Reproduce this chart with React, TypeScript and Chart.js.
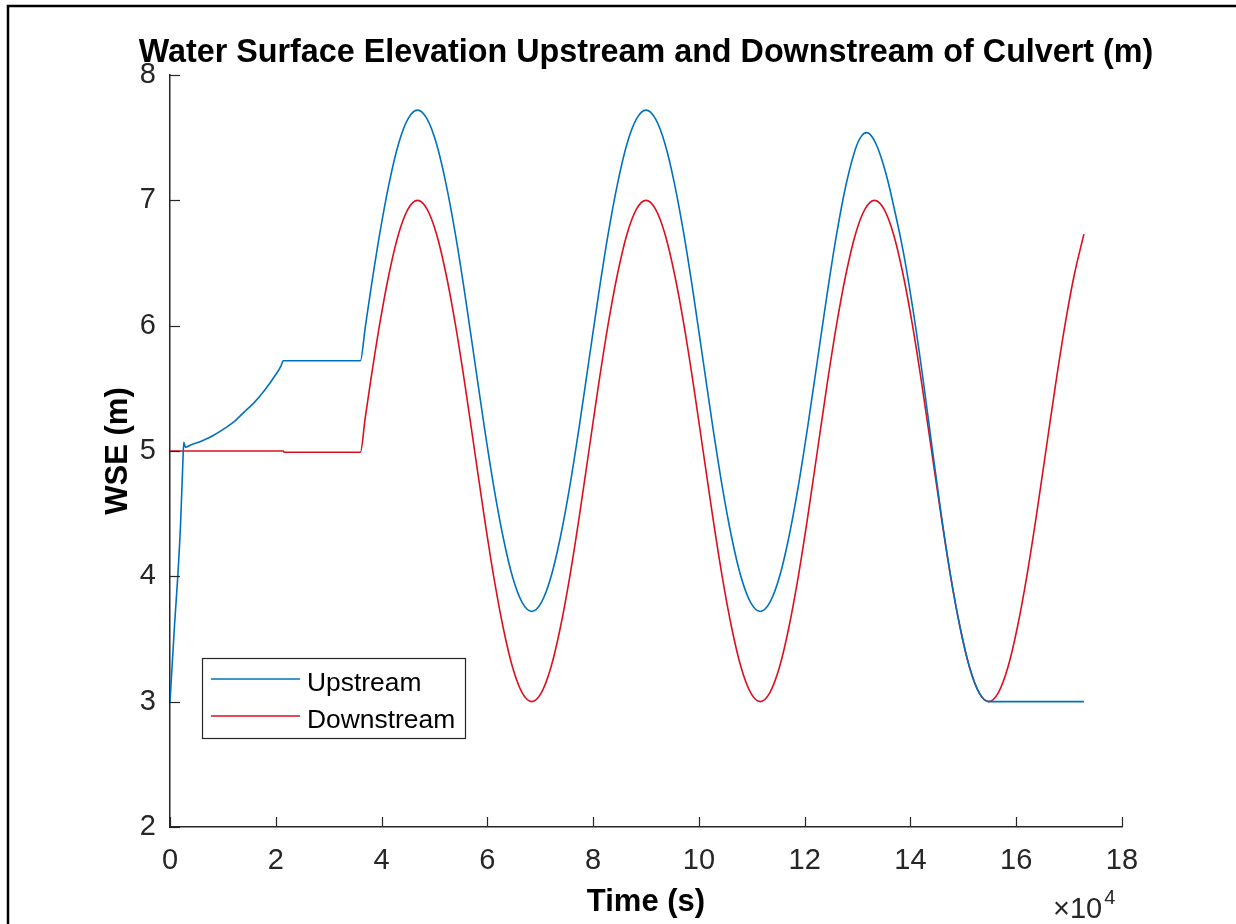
import React, { useEffect, useRef } from "react";
import { Chart, registerables } from "chart.js";

Chart.register(...registerables);

// ---- data (time in seconds, WSE in metres) ----
const upTime = [
  0, 870, 1500, 2000, 2450, 2600, 2900, 4000, 6000, 8000, 10000, 12000, 14000, 16000, 18000, 20000, 21000, 21400,
  36000, 36900, 37800, 39600, 41400, 43200, 45000, 46800, 48600, 50400, 52200, 54000, 55800, 57600, 59400, 61200,
  63000, 64800, 66600, 68400, 70200, 72000, 73800, 75600, 77400, 79200, 81000, 82800, 84600, 86400, 88200, 90000,
  91800, 93600, 95400, 97200, 99000, 100800, 102600, 104400, 106200, 108000, 109800, 111600, 113400, 115200,
  117000, 118800, 120600, 122400, 124200, 126000, 127800, 129600, 130700, 131700, 132700, 133700, 134700, 135700,
  136800, 138600, 140400, 142200, 144000, 145800, 147600, 149400, 151200, 153000, 154800, 172800,
];
const upWSE = [
  3.0, 3.62, 4.02, 4.42, 4.93, 5.07, 5.03, 5.05, 5.08, 5.12, 5.17, 5.23, 5.31, 5.39, 5.49, 5.61, 5.68, 5.72,
  5.72, 5.98, 6.24, 6.72, 7.13, 7.45, 7.65, 7.72, 7.65, 7.45, 7.13, 6.72, 6.24, 5.72, 5.2, 4.72,
  4.31, 3.99, 3.79, 3.72, 3.79, 3.99, 4.31, 4.72, 5.2, 5.72, 6.24, 6.72, 7.13, 7.45, 7.65, 7.72,
  7.65, 7.45, 7.13, 6.72, 6.24, 5.72, 5.2, 4.72, 4.31, 3.99, 3.79, 3.72, 3.79, 3.99,
  4.31, 4.72, 5.2, 5.72, 6.24, 6.72, 7.12, 7.41, 7.51, 7.54, 7.51, 7.43, 7.31, 7.16,
  6.96, 6.6, 6.15, 5.63, 5.06, 4.5, 4.0, 3.59, 3.27, 3.07, 3.0, 3.0,
];
const downTime = [
  0, 21400, 21600, 36000, 36900, 37800, 39600, 41400, 43200, 45000, 46800, 48600, 50400, 52200, 54000, 55800,
  57600, 59400, 61200, 63000, 64800, 66600, 68400, 70200, 72000, 73800, 75600, 77400, 79200, 81000, 82800,
  84600, 86400, 88200, 90000, 91800, 93600, 95400, 97200, 99000, 100800, 102600, 104400, 106200, 108000,
  109800, 111600, 113400, 115200, 117000, 118800, 120600, 122400, 124200, 126000, 127800, 129600, 131400,
  133200, 135000, 136800, 138600, 140400, 142200, 144000, 145800, 147600, 149400, 151200, 153000, 154800,
  156600, 158400, 160200, 162000, 163800, 165600, 167400, 169200, 171000, 172800,
];
const downWSE = [
  5.0, 5.0, 4.99, 4.99, 5.26, 5.52, 6.0, 6.41, 6.73, 6.93, 7.0, 6.93, 6.73, 6.41, 6.0, 5.52,
  5.0, 4.48, 4.0, 3.59, 3.27, 3.07, 3.0, 3.07, 3.27, 3.59, 4.0, 4.48, 5.0, 5.52, 6.0,
  6.41, 6.73, 6.93, 7.0, 6.93, 6.73, 6.41, 6.0, 5.52, 5.0, 4.48, 4.0, 3.59, 3.27,
  3.07, 3.0, 3.07, 3.27, 3.59, 4.0, 4.48, 5.0, 5.52, 6.0, 6.41, 6.73, 6.93,
  7.0, 6.93, 6.73, 6.41, 6.0, 5.52, 5.0, 4.48, 4.0, 3.59, 3.27, 3.07, 3.0,
  3.07, 3.27, 3.59, 4.0, 4.48, 5.0, 5.52, 6.0, 6.41, 6.73,
];

const seriesNames = ["Upstream", "Downstream"];
const seriesColors = ["#0072BD", "#DA1020"];
const xTickLabels = [0, 2, 4, 6, 8, 10, 12, 14, 16, 18]; // ×10^4 s
const yTickLabels = [2, 3, 4, 5, 6, 7, 8];
const xScaleFactor = 10000;
const titleText = "Water Surface Elevation Upstream and Downstream of Culvert (m)";
const xTitle = "Time (s)";
const yTitle = "WSE (m)";

const FONT = "'Liberation Sans', Arial, Helvetica, sans-serif";
const AXIS_COLOR = "#262626";

const decorPlugin = {
  id: "decor",
  beforeDraw(chart: any) {
    const ctx = chart.ctx;
    ctx.save();
    ctx.fillStyle = "#ffffff";
    ctx.fillRect(0, 0, chart.width, chart.height);
    ctx.restore();
  },
  afterDraw(chart: any) {
    const ctx = chart.ctx;
    const ca = chart.chartArea;
    const xs = chart.scales.x;
    const ys = chart.scales.y;
    ctx.save();

    // outer frame
    ctx.strokeStyle = "#000";
    ctx.lineWidth = 2.5;
    ctx.strokeRect(8, 6, chart.width + 40, chart.height + 40);

    // inward tick marks
    ctx.strokeStyle = AXIS_COLOR;
    ctx.lineWidth = 1.2;
    xs.ticks.forEach((t: any) => {
      const px = Math.round(xs.getPixelForValue(t.value)) + 0.5;
      ctx.beginPath();
      ctx.moveTo(px, ca.bottom);
      ctx.lineTo(px, ca.bottom - 10);
      ctx.stroke();
    });
    ys.ticks.forEach((t: any) => {
      const py = Math.round(ys.getPixelForValue(t.value)) + 0.5;
      ctx.beginPath();
      ctx.moveTo(ca.left, py);
      ctx.lineTo(ca.left + 10, py);
      ctx.stroke();
    });

    const cx = (ca.left + ca.right) / 2;
    const cy = (ca.top + ca.bottom) / 2;

    // title
    ctx.fillStyle = "#000";
    ctx.textAlign = "center";
    ctx.textBaseline = "alphabetic";
    ctx.font = `bold 32.3px ${FONT}`;
    ctx.fillText(titleText, cx, 62);

    // x title
    ctx.font = `bold 31px ${FONT}`;
    ctx.fillStyle = "#000";
    ctx.fillText(xTitle, cx, 911);

    // y title
    ctx.save();
    ctx.translate(127, cy);
    ctx.rotate(-Math.PI / 2);
    ctx.fillText(yTitle, 0, 0);
    ctx.restore();

    // x10^4 multiplier
    ctx.fillStyle = AXIS_COLOR;
    ctx.textAlign = "left";
    ctx.font = `29px ${FONT}`;
    ctx.fillText("\u00d710", 1053, 918);
    const w = ctx.measureText("\u00d710").width;
    ctx.font = `20px ${FONT}`;
    ctx.fillText("4", 1053 + w + 2, 904);

    // legend
    const lx = 202.5, ly = 658.5, lw = 263, lh = 80;
    ctx.fillStyle = "#fff";
    ctx.fillRect(lx, ly, lw, lh);
    ctx.strokeStyle = AXIS_COLOR;
    ctx.lineWidth = 1.2;
    ctx.strokeRect(lx, ly, lw, lh);
    const rows = [679, 716];
    chart.data.datasets.forEach((ds: any, i: number) => {
      ctx.strokeStyle = ds.borderColor;
      ctx.lineWidth = ds.borderWidth;
      ctx.beginPath();
      ctx.moveTo(211, rows[i]);
      ctx.lineTo(300, rows[i]);
      ctx.stroke();
      ctx.fillStyle = "#000";
      ctx.font = `26.4px ${FONT}`;
      ctx.textAlign = "left";
      ctx.textBaseline = "alphabetic";
      ctx.fillText(ds.label, 307, rows[i] + 12);
    });

    ctx.restore();
  },
};

export default function App() {
  const ref = useRef<HTMLCanvasElement | null>(null);

  useEffect(() => {
    if (!ref.current) return;
    const upData = upTime.map((t, i) => ({ x: t, y: upWSE[i] }));
    const downData = downTime.map((t, i) => ({ x: t, y: downWSE[i] }));
    const tickFont = { family: FONT, size: 29 };

    const chart = new Chart(ref.current, {
      type: "line",
      data: {
        datasets: [
          {
            label: seriesNames[0],
            data: upData,
            borderColor: seriesColors[0],
            borderWidth: 1.6,
            pointRadius: 0,
            fill: false,
            cubicInterpolationMode: "monotone",
          },
          {
            label: seriesNames[1],
            data: downData,
            borderColor: seriesColors[1],
            borderWidth: 1.6,
            pointRadius: 0,
            fill: false,
            cubicInterpolationMode: "monotone",
          },
        ],
      },
      options: {
        responsive: false,
        animation: false,
        events: [],
        layout: { padding: { left: 0, top: 75, right: 114, bottom: 0 } },
        plugins: {
          legend: { display: false },
          title: { display: false },
          tooltip: { enabled: false },
        },
        scales: {
          x: {
            type: "linear",
            min: xTickLabels[0] * xScaleFactor,
            max: xTickLabels[xTickLabels.length - 1] * xScaleFactor,
            afterBuildTicks: (scale: any) => {
              scale.ticks = xTickLabels.map((v) => ({ value: v * xScaleFactor }));
            },
            afterFit: (scale: any) => {
              scale.height = 97;
            },
            ticks: {
              callback: (v: any) => String(Number(v) / xScaleFactor),
              font: tickFont,
              color: AXIS_COLOR,
              padding: 17,
              maxRotation: 0,
              autoSkip: false,
            },
            grid: { display: false, drawTicks: false },
            border: { display: true, color: AXIS_COLOR, width: 1.5 },
          },
          y: {
            type: "linear",
            min: yTickLabels[0],
            max: yTickLabels[yTickLabels.length - 1],
            afterBuildTicks: (scale: any) => {
              scale.ticks = yTickLabels.map((v) => ({ value: v }));
            },
            afterFit: (scale: any) => {
              scale.width = 170;
            },
            ticks: {
              callback: (v: any) => String(v),
              font: tickFont,
              color: AXIS_COLOR,
              padding: 14,
              autoSkip: false,
            },
            grid: { display: false, drawTicks: false },
            border: { display: true, color: AXIS_COLOR, width: 1.5 },
          },
        },
      },
      plugins: [decorPlugin],
    } as any);

    return () => chart.destroy();
  }, []);

  return (
    <div style={{ position: "fixed", left: 0, top: 0, width: 1236, height: 924, background: "#fff" }}>
      <canvas ref={ref} width={1236} height={924} style={{ display: "block", width: 1236, height: 924 }} />
    </div>
  );
}
